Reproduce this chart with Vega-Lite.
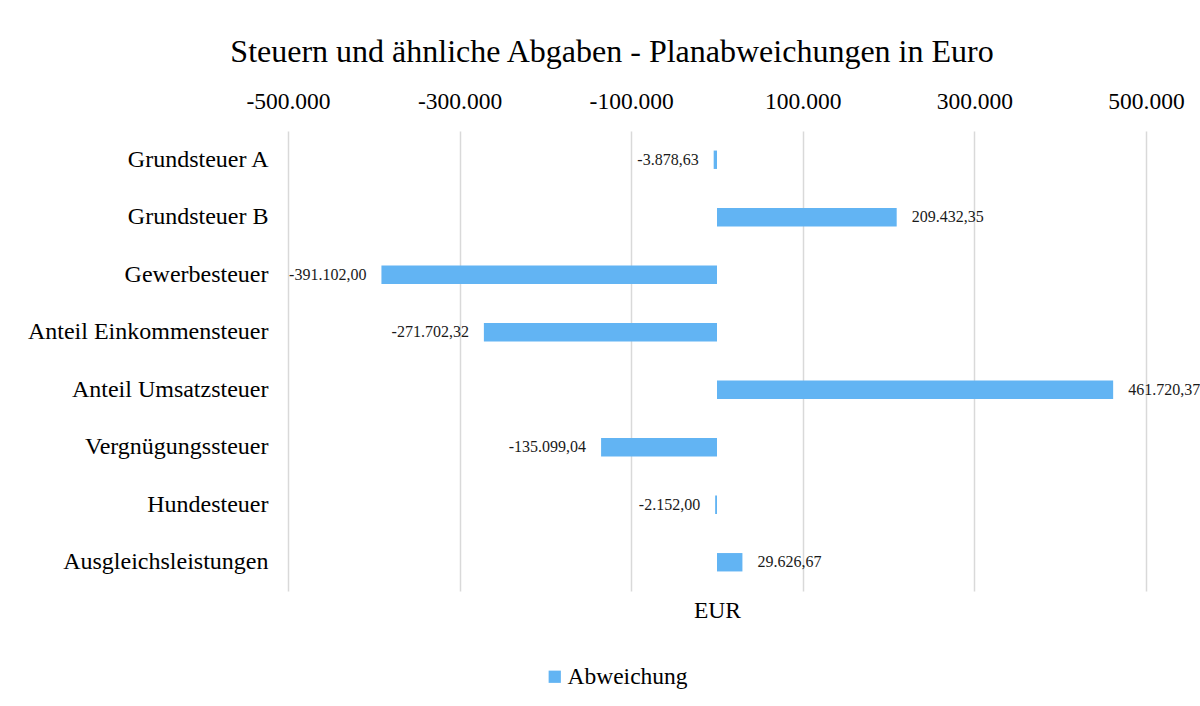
{
  "$schema": "https://vega.github.io/schema/vega-lite/v6.json",
  "width": 858,
  "height": 460,
  "autosize": {"type": "none"},
  "padding": {"left": 288, "top": 131, "right": 54, "bottom": 115},
  "background": "white",
  "config": {
    "locale": {"number": {"decimal": ",", "thousands": ".", "grouping": [3], "currency": ["", " €"], "minus": "-"}},
    "font": "Liberation Serif",
    "view": {"stroke": null}
  },
  "title": {
    "text": "Steuern und ähnliche Abgaben - Planabweichungen in Euro",
    "fontSize": 32,
    "font": "Liberation Serif",
    "fontWeight": "normal",
    "color": "#000000",
    "dx": -105,
    "offset": 20
  },
  "data": {
    "values": [
      {"Steuer": "Grundsteuer A", "Abweichung": -3878.63},
      {"Steuer": "Grundsteuer B", "Abweichung": 209432.35},
      {"Steuer": "Gewerbesteuer", "Abweichung": -391102.00},
      {"Steuer": "Anteil Einkommensteuer", "Abweichung": -271702.32},
      {"Steuer": "Anteil Umsatzsteuer", "Abweichung": 461720.37},
      {"Steuer": "Vergnügungssteuer", "Abweichung": -135099.04},
      {"Steuer": "Hundesteuer", "Abweichung": -2152.00},
      {"Steuer": "Ausgleichsleistungen", "Abweichung": 29626.67}
    ]
  },
  "encoding": {
    "y": {
      "field": "Steuer",
      "type": "nominal",
      "sort": null,
      "scale": {"paddingInner": 0.68, "paddingOuter": 0.34},
      "axis": {
        "title": null,
        "domain": false,
        "ticks": false,
        "labelPadding": 20,
        "labelFontSize": 24,
        "labelFont": "Liberation Serif",
        "labelColor": "#000000",
        "labelLimit": 0
      }
    }
  },
  "layer": [
    {
      "mark": {"type": "bar", "color": "#62B4F3"},
      "encoding": {
        "x": {
          "field": "Abweichung",
          "type": "quantitative",
          "scale": {"domain": [-500000, 500000], "nice": false, "zero": false},
          "axis": {
            "orient": "top",
            "values": [-500000, -300000, -100000, 100000, 300000, 500000],
            "format": ",.0f",
            "grid": true,
            "gridColor": "#d9d9d9",
            "gridWidth": 1.5,
            "domain": false,
            "ticks": false,
            "labelPadding": 18,
            "labelFontSize": 23.5,
            "labelFont": "Liberation Serif",
            "labelColor": "#000000",
            "labelFlush": false,
            "title": null
          }
        },
        "color": {
          "datum": "Abweichung",
          "scale": {"range": ["#62B4F3"]},
          "legend": {
            "title": null,
            "orient": "none",
            "legendX": 255,
            "legendY": 534,
            "symbolType": "square",
            "symbolSize": 150,
            "symbolStrokeWidth": 0,
            "labelOffset": 1,
            "labelFontSize": 23.5,
            "labelFont": "Liberation Serif",
            "labelColor": "#000000"
          }
        }
      }
    },
    {
      "transform": [{"filter": "datum.Abweichung >= 0"}],
      "mark": {"type": "text", "align": "left", "dx": 15, "fontSize": 16, "font": "Liberation Serif", "color": "#1a1a1a"},
      "encoding": {
        "x": {
          "field": "Abweichung",
          "type": "quantitative",
          "axis": {
            "orient": "bottom",
            "title": "EUR",
            "titleFontSize": 23.5,
            "titleFont": "Liberation Serif",
            "titleFontWeight": "normal",
            "titleColor": "#000000",
            "labels": false,
            "ticks": false,
            "domain": false,
            "grid": false,
            "titlePadding": 7
          }
        },
        "text": {"field": "Abweichung", "type": "quantitative", "format": ",.2f"}
      }
    },
    {
      "transform": [{"filter": "datum.Abweichung < 0"}],
      "mark": {"type": "text", "align": "right", "dx": -15, "fontSize": 16, "font": "Liberation Serif", "color": "#1a1a1a"},
      "encoding": {
        "x": {"field": "Abweichung", "type": "quantitative", "axis": null},
        "text": {"field": "Abweichung", "type": "quantitative", "format": ",.2f"}
      }
    }
  ],
  "resolve": {"axis": {"x": "independent"}}
}
